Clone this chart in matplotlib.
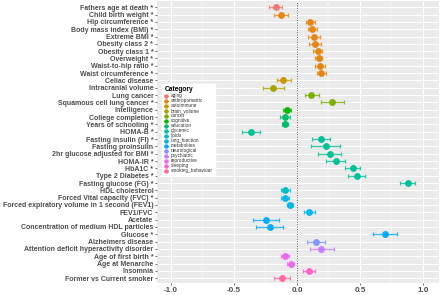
import matplotlib.pyplot as plt
from matplotlib.lines import Line2D

plt.rcParams['font.family'] = ['Liberation Sans', 'DejaVu Sans']

TRAITS = [
    "Fathers age at death *", "Child birth weight *", "Hip circumference *",
    "Body mass index (BMI) *", "Extreme BMI *", "Obesity class 2 *",
    "Obesity class 1 *", "Overweight *", "Waist-to-hip ratio *",
    "Waist circumference *", "Celiac disease", "Intracranial volume",
    "Lung cancer", "Squamous cell lung cancer *", "Intelligence",
    "College completion", "Years of schooling *", "HOMA-B *",
    "Fasting insulin (FI) *", "Fasting proinsulin",
    "2hr glucose adjusted for BMI *", "HOMA-IR *", "HbA1C *",
    "Type 2 Diabetes *", "Fasting glucose (FG) *", "HDL cholesterol",
    "Forced Vital capacity (FVC) *",
    "Forced expiratory volume in 1 second (FEV1)", "FEV1/FVC", "Acetate",
    "Concentration of medium HDL particles", "Glucose *",
    "Alzheimers disease", "Attention deficit hyperactivity disorder",
    "Age of first birth *", "Age at Menarche", "Insomnia",
    "Former vs Current smoker",
]

CATEGORY = [
    "aging", "anthropometric", "anthropometric", "anthropometric",
    "anthropometric", "anthropometric", "anthropometric", "anthropometric",
    "anthropometric", "anthropometric", "autoimmune", "brain_volume",
    "cancer", "cancer", "cognitive", "education", "education",
    "glycemic", "glycemic", "glycemic", "glycemic", "glycemic", "glycemic",
    "glycemic", "glycemic", "lipids", "lung_function", "lung_function",
    "lung_function", "metabolites", "metabolites", "metabolites",
    "neurological", "psychiatric", "reproductive", "reproductive",
    "sleeping", "smoking_behaviour",
]

ESTIMATE = [
    -0.17, -0.13, 0.105, 0.123, 0.134, 0.139, 0.163, 0.171, 0.179, 0.189,
    -0.108, -0.192, 0.115, 0.278, -0.079, -0.095, -0.095, -0.368,
    0.191, 0.228, 0.26, 0.307, 0.441, 0.473, 0.88, -0.095, -0.095,
    -0.055, 0.097, -0.247, -0.218, 0.696, 0.147, 0.194, -0.097, -0.05,
    0.097, -0.118,
]
LOWER = [
    -0.22, -0.18, 0.07, 0.09, 0.09, 0.095, 0.125, 0.14, 0.145, 0.155,
    -0.157, -0.27, 0.06, 0.19, -0.108, -0.137, -0.12, -0.44,
    0.123, 0.115, 0.168, 0.234, 0.383, 0.407, 0.82, -0.13, -0.127,
    -0.076, 0.055, -0.347, -0.329, 0.604, 0.079, 0.102, -0.13, -0.08,
    0.05, -0.18,
]
UPPER = [
    -0.12, -0.07, 0.14, 0.16, 0.18, 0.19, 0.2, 0.2, 0.22, 0.23,
    -0.05, -0.105, 0.175, 0.37, -0.045, -0.055, -0.07, -0.296,
    0.263, 0.34, 0.35, 0.383, 0.504, 0.543, 0.937, -0.055, -0.06,
    -0.034, 0.14, -0.145, -0.108, 0.793, 0.221, 0.297, -0.063, -0.024,
    0.14, -0.055,
]

CATEGORIES = [
    "aging", "anthropometric", "autoimmune", "brain_volume", "cancer",
    "cognitive", "education", "glycemic", "lipids", "lung_function",
    "metabolites", "neurological", "psychiatric", "reproductive",
    "sleeping", "smoking_behaviour",
]
COLOURS = [
    "#F8766D", "#E68613", "#CD9600", "#ABA300", "#7CAE00", "#0CB702",
    "#00BE67", "#00C19A", "#00BFC4", "#00B8E7", "#00A9FF", "#8494FF",
    "#C77CFF", "#ED68ED", "#FF61CC", "#FF68A1",
]
cmap = dict(zip(CATEGORIES, COLOURS))

fig = plt.figure(figsize=(4.4, 2.95), dpi=100)
ax = fig.add_axes([157 / 440, 1 - 283 / 295, 282 / 440, 282 / 295])
ax.set_facecolor('#EBEBEB')

ax.set_xticks([-1.0, -0.5, 0.0, 0.5, 1.0])
ax.set_xticks([-0.75, -0.25, 0.25, 0.75], minor=True)
ax.set_xticklabels(['-1.0', '-0.5', '0.0', '0.5', '1.0'])
ax.grid(which='major', color='white', linewidth=0.7)
ax.grid(which='minor', axis='x', color='white', linewidth=0.35)
ax.set_axisbelow(True)

ax.axvline(0, color='#555555', linestyle=(0, (1, 1.5)), linewidth=0.7, zorder=1)

for i, t in enumerate(TRAITS):
    c = cmap[CATEGORY[i]]
    ax.errorbar(ESTIMATE[i], i,
                xerr=[[ESTIMATE[i] - LOWER[i]], [UPPER[i] - ESTIMATE[i]]],
                fmt='none', ecolor=c, elinewidth=0.9, capsize=1.2,
                capthick=0.9, alpha=0.8, zorder=2)
    ax.plot(ESTIMATE[i], i, 'o', color=c, markersize=3.9, zorder=3)

ax.set_yticks(range(len(TRAITS)))
ax.set_yticklabels(TRAITS)
ax.set_ylim(37.65, -0.85)
ax.set_xlim(-1.111, 1.127)

for s in ax.spines.values():
    s.set_visible(False)
ax.tick_params(axis='both', which='major', length=1.5, width=0.5,
               color='#333333', labelcolor='#4D4D4D', pad=1.2)
ax.tick_params(axis='x', which='minor', length=0)
for lab in ax.get_yticklabels():
    lab.set_fontsize(5)
    lab.set_fontweight('bold')
for lab in ax.get_xticklabels():
    lab.set_fontsize(5.8)
    lab.set_fontweight('bold')

handles = [Line2D([], [], marker='o', linestyle='-', color=c, markersize=2.2,
                  linewidth=0.6) for c in COLOURS]
leg = ax.legend(handles, CATEGORIES, title='Category', loc='upper left',
                bbox_to_anchor=(160 / 440, 1 - 82 / 295),
                bbox_transform=fig.transFigure, fontsize=3.4,
                title_fontsize=4.8, frameon=True, fancybox=False,
                edgecolor='white', facecolor='white', framealpha=1,
                handlelength=0.8, handletextpad=0.5, labelspacing=0.0,
                borderpad=0.45, alignment='left')
leg.get_title().set_fontweight('bold')
for txt in leg.get_texts():
    txt.set_color('#333333')

fig.savefig('out.png', dpi=100)
